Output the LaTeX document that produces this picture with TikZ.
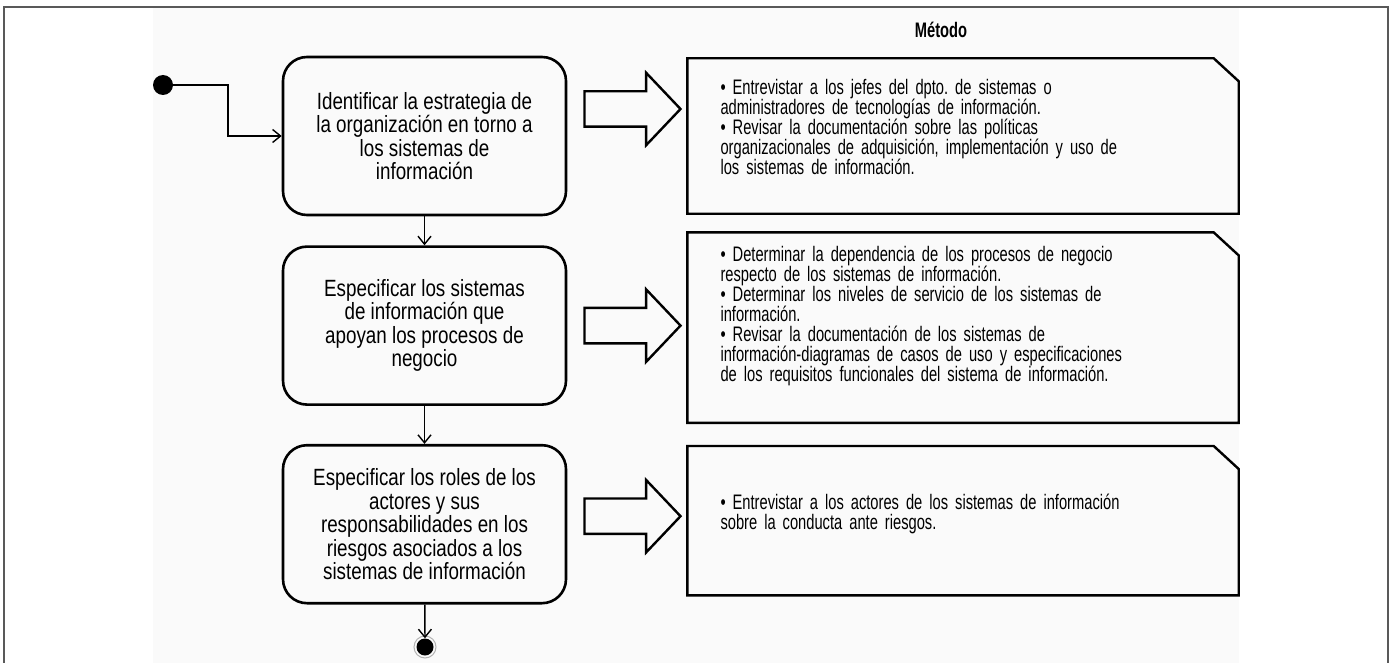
\documentclass[tikz,border=0pt]{standalone}
\usepackage{fontspec}
\setmainfont{Liberation Sans}[FakeStretch=0.70]
\newfontfamily\boxfont{Liberation Sans}[FakeStretch=0.8]
\usetikzlibrary{positioning, arrows.meta, shapes.arrows}

\begin{document}
\begin{tikzpicture}[
        x=1pt, y=-1pt,
        font=\frenchspacing\fontsize{21}{20}\selectfont,
        >={Straight Barb[length=8pt,width=13pt]},
        activity/.style={
            draw,
            line width=2.6pt,
            rounded corners=24pt,
            align=center,
            minimum width=283pt,
            minimum height=158pt,
            inner sep=0pt,
            font=\boxfont\fontsize{23.5}{23.5}\selectfont
        },
        note/.style={
            minimum width=551pt,
            text width=485pt,
            align=left,
            inner xsep=33pt
        },
        noteline/.style={draw, line width=2.4pt, line join=miter},
        bigarrow/.style={
            draw,
            line width=2.4pt,
            single arrow,
            single arrow head extend=18.5pt,
            single arrow tip angle=93,
            minimum height=96pt,
            inner ysep=16.5pt,
            inner xsep=0pt
        },
        flow/.style={->, line width=1.4pt}
    ]

    \useasboundingbox (0,0) rectangle (1396,663);
    \fill[black!2] (153,7) rectangle (1239,663);
    \draw[black!65, line width=1.3pt] (4,663) |- (1388,7) -- (1388,663);

    \node[circle, fill, minimum size=20pt, inner sep=0pt] (init) at (163,85) {};

    \node[activity] (act1) at (424.5,136) {
        Identificar la estrategia de\\
        la organización en torno a\\
        los sistemas de\\
        información
    };

    \node[activity, below=29pt of act1] (act2) {
        Especificar los sistemas\\
        de información que\\
        apoyan los procesos de\\
        negocio
    };

    \node[activity, below=38pt of act2] (act3) {
        Especificar los roles de los\\
        actores y sus\\
        responsabilidades en los\\
        riesgos asociados a los\\
        sistemas de información
    };

    \node[circle, fill, minimum size=17pt, inner sep=0pt] (final) at (425,647) {};
    \draw[black!30, line width=1pt] (final) circle (11pt);

    \node[note, minimum height=155pt, text depth=98pt, right=120pt of act1] (met1) {
        • Entrevistar a los jefes del dpto. de sistemas o\\
        administradores de tecnologías de información.\\
        • Revisar la documentación sobre las políticas\\
        organizacionales de adquisición, implementación y uso de\\
        los sistemas de información.
    };

    \node[note, minimum height=190pt, text depth=148pt, right=120pt of act2, yshift=-2pt] (met2) {
        • Determinar la dependencia de los procesos de negocio\\
        respecto de los sistemas de información.\\
        • Determinar los niveles de servicio de los sistemas de\\
        información.\\
        • Revisar la documentación de los sistemas de\\
        información-diagramas de casos de uso y especificaciones\\
        de los requisitos funcionales del sistema de información.
    };

    \node[note, minimum height=149pt, text depth=38pt, right=120pt of act3, yshift=3.5pt] (met3) {
        • Entrevistar a los actores de los sistemas de información\\
        sobre la conducta ante riesgos.
    };

    % folded corner outline of the method notes
    \foreach \n in {met1, met2, met3}
        \draw[noteline] (\n.north west) -- ([xshift=-25pt]\n.north east)
            -- ([yshift=-23pt]\n.north east) -- (\n.south east) -- (\n.south west) -- cycle;

    \node[font=\fontsize{21}{20}\selectfont\bfseries] (metodo) at (941,30) {Método};

    \node[bigarrow, right=16pt of act1, yshift=27pt] (arr1) {};
    \node[bigarrow, right=16pt of act2] (arr2) {};
    \node[bigarrow, right=16pt of act3, yshift=8pt] (arr3) {};

    \draw[flow] (init) -- ++(65,0) |- (act1);
    \draw[flow] (act1) -- (act2);
    \draw[flow] (act2) -- (act3);
    \draw[flow] (act3) -- (final);

\end{tikzpicture}
\end{document}
